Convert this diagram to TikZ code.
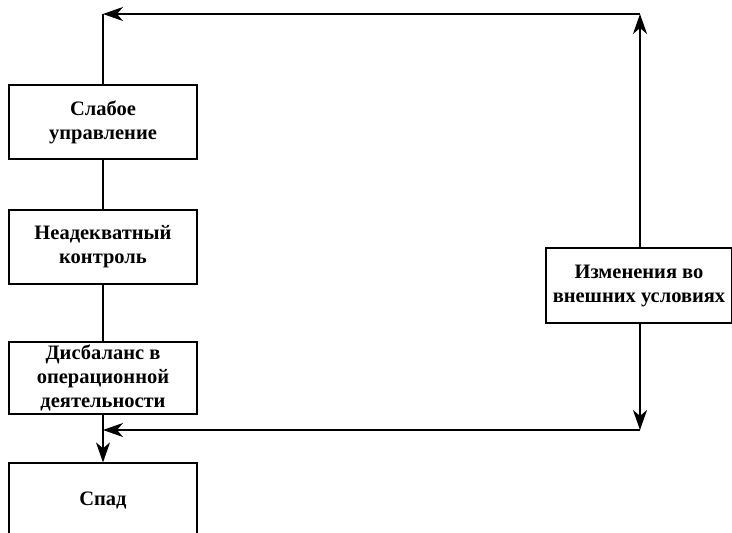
\documentclass[tikz,border=0pt]{standalone}
\usepackage{fontspec}
\setmainfont{Liberation Serif}
\usetikzlibrary{arrows.meta}
\begin{document}
\begin{tikzpicture}[x=1pt,y=-1pt,
  box/.style={draw, line width=1.2pt, minimum width=188pt, minimum height=74pt, inner sep=0pt, align=center, font=\bfseries\fontsize{20.5}{24}\selectfont},
  conn/.style={line width=1.2pt},
  arr/.style={line width=1.2pt, -{Stealth[length=20pt,width=14pt,inset=6pt]}}]
\useasboundingbox (0,0) rectangle (732,533);
\begin{scope}
\clip (0,0) rectangle (732,533);
\node[box] (b1) at (103,122) {Слабое\\управление};
\node[box] (b2) at (103,247) {Неадекватный\\контроль};
\node[box, minimum height=72pt] (b3) at (103,378) {Дисбаланс в\\операционной\\деятельности};
\node[box] (b4) at (103,500) {Спад};
\node[box, minimum width=186pt, minimum height=75pt] (r) at (639,285.5) {Изменения во\\внешних условиях};
\coordinate (tl) at (103,14);
\coordinate (tr) at (640,14);
\coordinate (br) at (640,430);
\coordinate (bl) at (103,430);
\draw[conn] (b1.south) -- (b2.north);
\draw[conn] (b2.south) -- (b3.north);
\draw[arr] (b3.south) -- (b4.north);
\draw[conn] (b1.north) -- (tl);
\draw[arr] (tr) -- (tl);
\draw[arr] (r.north -| tr) -- (tr);
\draw[arr] (r.south -| br) -- (br);
\draw[arr] (br) -- (bl);
\end{scope}
\end{tikzpicture}
\end{document}
